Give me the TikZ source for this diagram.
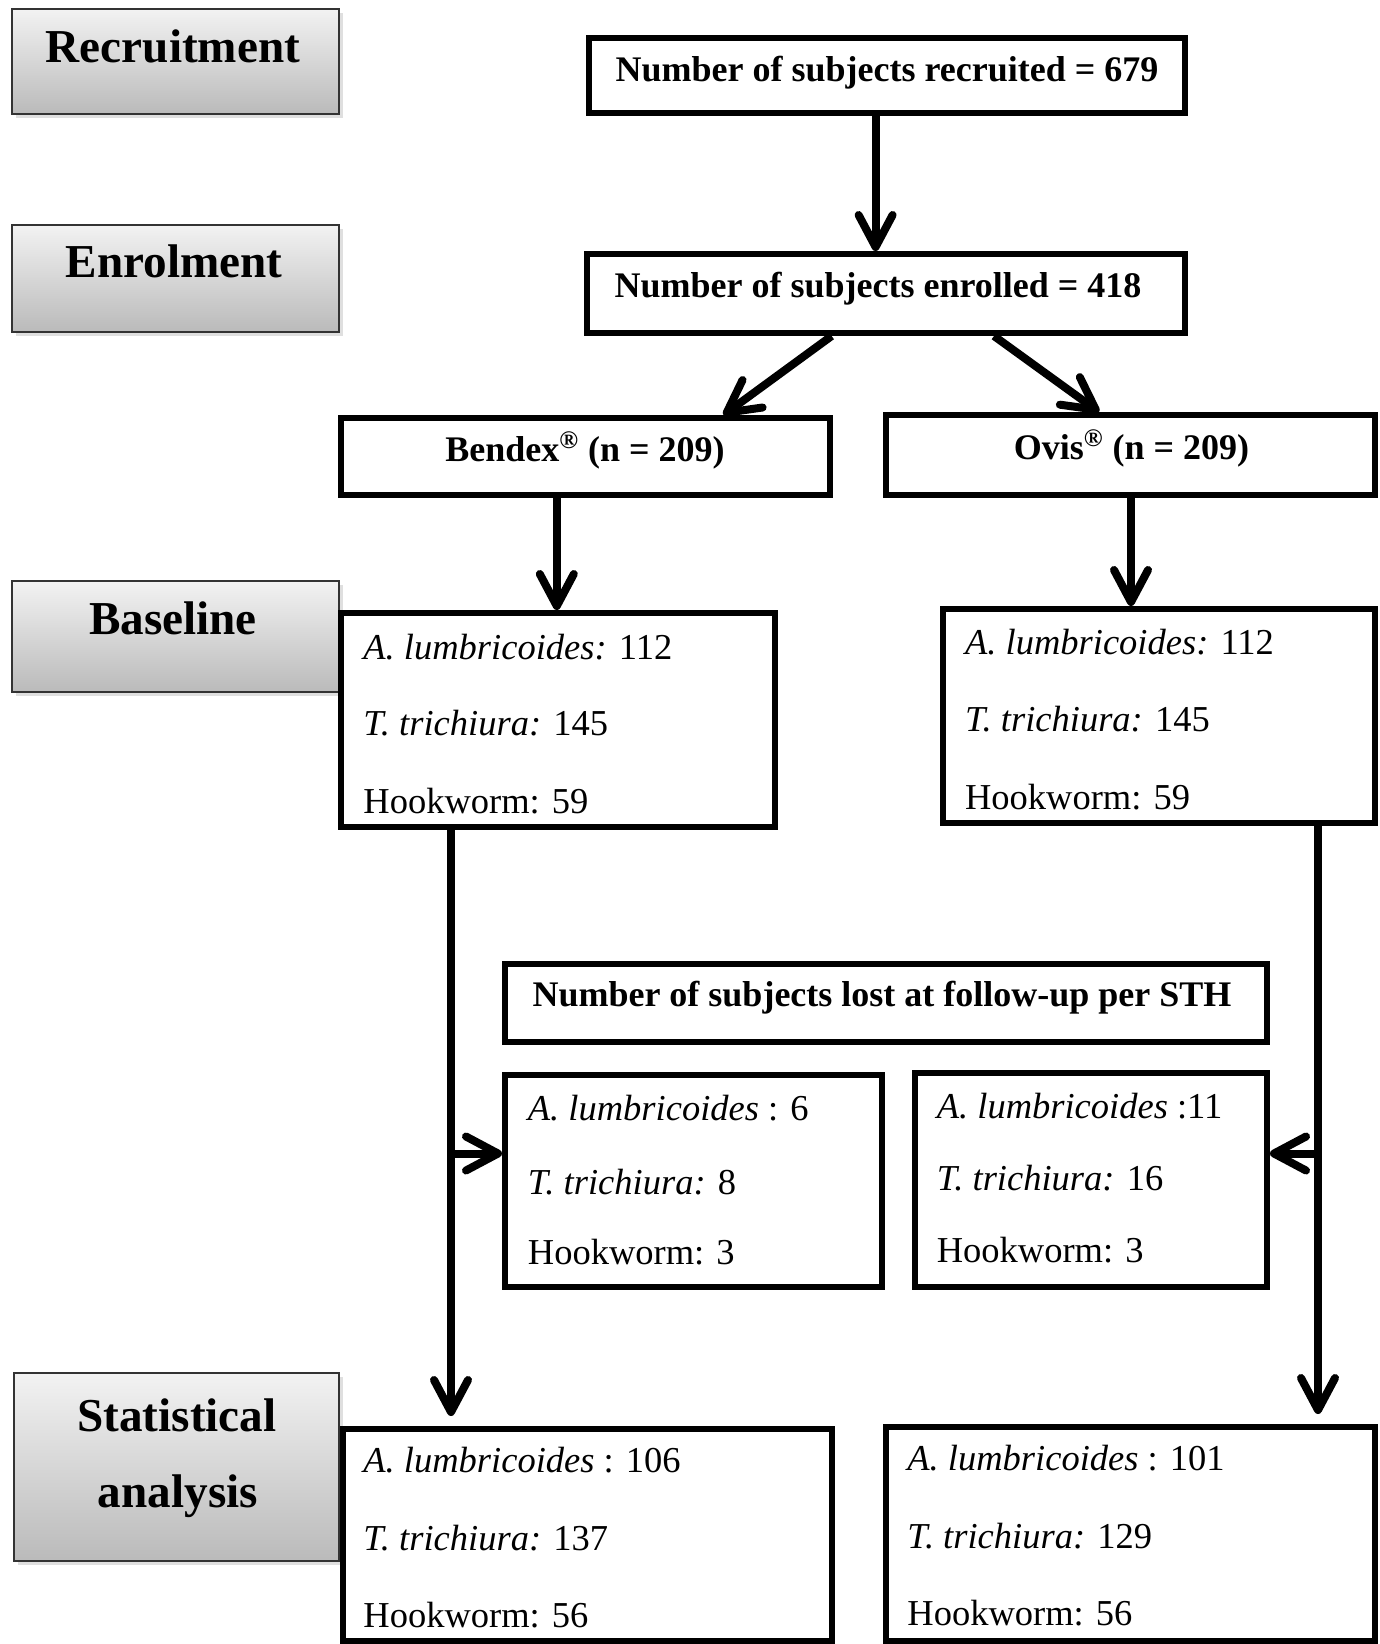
\documentclass[tikz,border=0pt]{standalone}
\usepackage{fontspec}
\setmainfont{Liberation Serif}
\usetikzlibrary{arrows.meta,shadows}
\begin{document}
\begin{tikzpicture}[x=0.5pt,y=-0.5pt,
  box/.style={draw=black, line width=3pt, fill=white, inner sep=0pt, rectangle},
  stage/.style={draw=black!80, line width=1pt, top color=black!5, bottom color=black!27, inner sep=0pt, rectangle,
    drop shadow={shadow xshift=2pt, shadow yshift=-2pt, opacity=0.25}},
  stagetxt/.style={font=\fontsize{23.6}{28}\selectfont\bfseries, inner sep=0pt, anchor=base},
  titletxt/.style={font=\fontsize{18}{22}\selectfont\bfseries, inner sep=0pt, anchor=base},
  bodytxt/.style={font=\fontsize{18.25}{22}\selectfont, inner sep=0pt, anchor=base west},
  arr/.style={line width=4pt, -{Straight Barb[length=16pt,width=17pt,round]}},
  plainline/.style={line width=4pt}
]
\useasboundingbox (0,0) rectangle (1380,1644);

% stage boxes (left column)
\node[stage, minimum width=163.5pt, minimum height=52.5pt] (G1) at (175.5,61.5) {};
\node[stage, minimum width=163.5pt, minimum height=53.5pt] (G2) at (175.5,278.5) {};
\node[stage, minimum width=163.5pt, minimum height=55.5pt] (G3) at (175.5,636.5) {};
\node[stage, minimum width=162.5pt, minimum height=94pt] (G4) at (176.5,1467) {};
\node[stagetxt] (g1t) at (173,62.5) {Recruitment};
\node[stagetxt] (g2t) at (174,277.5) {Enrolment};
\node[stagetxt] (g3t) at (173,634) {Baseline};
\node[stagetxt] (g4t) at (177,1431) {Statistical};
\node[stagetxt] (g4u) at (178,1507) {analysis};

% flow boxes
\node[box, minimum width=298pt, minimum height=37.5pt] (R) at (887,75.5) {};
\node[box, minimum width=299pt, minimum height=39.5pt] (E) at (886,293.5) {};
\node[box, minimum width=244.5pt, minimum height=38.5pt] (B) at (585.5,456.5) {};
\node[box, minimum width=244.5pt, minimum height=40pt] (O) at (1130.5,455) {};
\node[box, minimum width=217pt, minimum height=107pt] (BL) at (558,720) {};
\node[box, minimum width=216.25pt, minimum height=107pt] (BR) at (1158.75,716) {};
\node[box, minimum width=381pt, minimum height=39pt] (LH) at (886,1002.5) {};
\node[box, minimum width=188.5pt, minimum height=106pt] (LL) at (693.5,1181) {};
\node[box, minimum width=176pt, minimum height=107pt] (LR) at (1091,1180) {};
\node[box, minimum width=244.5pt, minimum height=106pt] (SL) at (587.5,1535) {};
\node[box, minimum width=244.5pt, minimum height=107pt] (SR) at (1130.5,1534) {};

% titles
\node[titletxt] (Rt) at (887,81) {Number of subjects recruited = 679};
\node[titletxt] (Et) at (878,297) {Number of subjects enrolled = 418};
\node[titletxt] (Bt) at (585,461) {Bendex\textsuperscript{\textregistered} (n = 209)};
\node[titletxt] (Ot) at (1131.5,459) {Ovis\textsuperscript{\textregistered} (n = 209)};
\node[titletxt] (LHt) at (882,1006) {Number of subjects lost at follow-up per STH};

% body texts
\node[bodytxt] (bl1) at (363,659) {\textit{A. lumbricoides:} 112};
\node[bodytxt] (bl2) at (363,735.5) {\textit{T. trichiura:} 145};
\node[bodytxt] (bl3) at (363,813) {Hookworm: 59};
\node[bodytxt] (br1) at (964.7,654) {\textit{A. lumbricoides:} 112};
\node[bodytxt] (br2) at (964.7,731) {\textit{T. trichiura:} 145};
\node[bodytxt] (br3) at (964.7,809) {Hookworm: 59};
\node[bodytxt] (ll1) at (527.5,1120) {\textit{A. lumbricoides} : 6};
\node[bodytxt] (ll2) at (527.5,1194) {\textit{T. trichiura:} 8};
\node[bodytxt] (ll3) at (527.5,1264) {Hookworm: 3};
\node[bodytxt] (lr1) at (936.4,1118) {\textit{A. lumbricoides} :11};
\node[bodytxt] (lr2) at (936.4,1190.6) {\textit{T. trichiura:} 16};
\node[bodytxt] (lr3) at (936.4,1262) {Hookworm: 3};
\node[bodytxt] (sl1) at (363,1472.7) {\textit{A. lumbricoides} : 106};
\node[bodytxt] (sl2) at (363,1550) {\textit{T. trichiura:} 137};
\node[bodytxt] (sl3) at (363,1627) {Hookworm: 56};
\node[bodytxt] (sr1) at (907,1470.6) {\textit{A. lumbricoides} : 101};
\node[bodytxt] (sr2) at (907,1548) {\textit{T. trichiura:} 129};
\node[bodytxt] (sr3) at (907,1625) {Hookworm: 56};

% connector guide coordinates
\coordinate (xa) at (875.6,0);
\coordinate (xb1) at (831.6,0);
\coordinate (xb2) at (723.5,0);
\coordinate (xc1) at (994,0);
\coordinate (xc2) at (1099,0);
\coordinate (xd) at (556.8,0);
\coordinate (xf) at (1131,0);
\coordinate (xe) at (451,0);
\coordinate (xg) at (1318,0);
\coordinate (yb) at (0,1153.5);
\coordinate (jl) at (yb -| xe);
\coordinate (jr) at (yb -| xg);

% connectors
\draw[arr] (R.south -| xa) -- (E.north -| xa);
\draw[arr] (E.south -| xb1) -- (B.north -| xb2);
\draw[arr] (E.south -| xc1) -- (O.north -| xc2);
\draw[arr] (B.south -| xd) -- (BL.north -| xd);
\draw[arr] (O.south -| xf) -- (BR.north -| xf);
\draw[arr, shorten >=5pt] (BL.south -| xe) -- (SL.north -| xe);
\draw[arr, shorten >=5pt] (BR.south -| xg) -- (SR.north -| xg);
\draw[arr] (jl) -- (LL.west |- yb);
\draw[arr] (jr) -- (LR.east |- yb);
\end{tikzpicture}
\end{document}
